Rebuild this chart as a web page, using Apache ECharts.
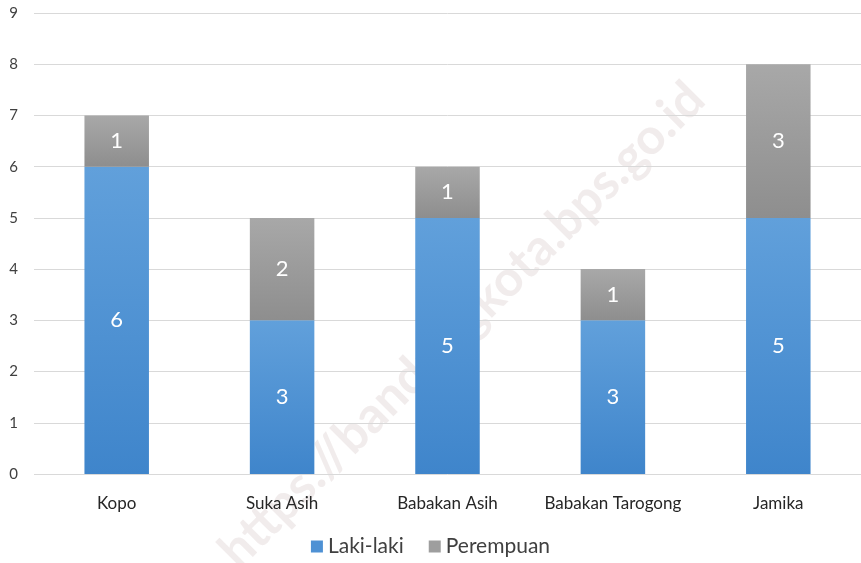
<!DOCTYPE html>
<html>
<head>
<meta charset="utf-8">
<script src="https://cdn.jsdelivr.net/npm/echarts@6/dist/echarts.min.js"></script>
<style>html,body{margin:0;padding:0;background:#fff}#c{width:861px;height:563px}</style>
</head>
<body>
<div id="c"></div>
<script>
const categories = ['Kopo', 'Suka Asih', 'Babakan Asih', 'Babakan Tarogong', 'Jamika'];
const lakiLaki = [6, 3, 5, 3, 5];
const perempuan = [1, 2, 1, 1, 3];
const seriesNames = ['Laki-laki', 'Perempuan'];

const chart = echarts.init(document.getElementById('c'));
const font = 'Lato, "Open Sans", sans-serif';
const blueGrad = new echarts.graphic.LinearGradient(0, 0, 0, 1, [
  {offset: 0, color: '#61a0db'}, {offset: 1, color: '#3f85cb'}]);
const grayGrad = new echarts.graphic.LinearGradient(0, 0, 0, 1, [
  {offset: 0, color: '#a8a8a8'}, {offset: 1, color: '#8e8e8e'}]);
chart.setOption({
  animation: false,
  backgroundColor: '#ffffff',
  graphic: [{
    type: 'text', z: -10, zlevel: 0,
    x: 462, y: 325, rotation: Math.PI / 4,
    style: {
      text: 'https://bandungkota.bps.go.id',
      font: 'bold 50px ' + font,
      fill: 'rgba(215,200,200,0.35)',
      align: 'center', verticalAlign: 'middle'
    }
  }],
  grid: {left: 34, right: 0, top: 13, bottom: 89, containLabel: false},
  legend: {
    bottom: 1, left: 'center', itemWidth: 12, itemHeight: 12, itemGap: 25,
    icon: 'rect',
    textStyle: {fontFamily: font, fontSize: 21, color: '#404040'},
    data: [{name: seriesNames[0], itemStyle: {color: '#4e91d4'}}, {name: seriesNames[1], itemStyle: {color: '#9e9e9e'}}]
  },
  xAxis: {
    type: 'category', data: categories,
    axisLine: {show: false}, axisTick: {show: false},
    axisLabel: {interval: 0, hideOverlap: false, fontFamily: font, fontSize: 17, color: '#262626', margin: 21}
  },
  yAxis: {
    type: 'value', min: 0, max: 9, interval: 1,
    axisLine: {show: false}, axisTick: {show: false},
    axisLabel: {fontFamily: font, fontSize: 15, color: '#404040', margin: 16},
    splitLine: {lineStyle: {color: '#d9d9d9', width: 1}}
  },
  series: [{
    name: seriesNames[0], type: 'bar', stack: 'a', data: lakiLaki, barWidth: '39%',
    itemStyle: {color: blueGrad},
    label: {show: true, position: 'inside', color: '#fff', fontFamily: font, fontSize: 22}
  }, {
    name: seriesNames[1], type: 'bar', stack: 'a', data: perempuan, barWidth: '39%',
    itemStyle: {color: grayGrad},
    label: {show: true, position: 'inside', color: '#fff', fontFamily: font, fontSize: 22}
  }]
});
</script>
</body>
</html>
